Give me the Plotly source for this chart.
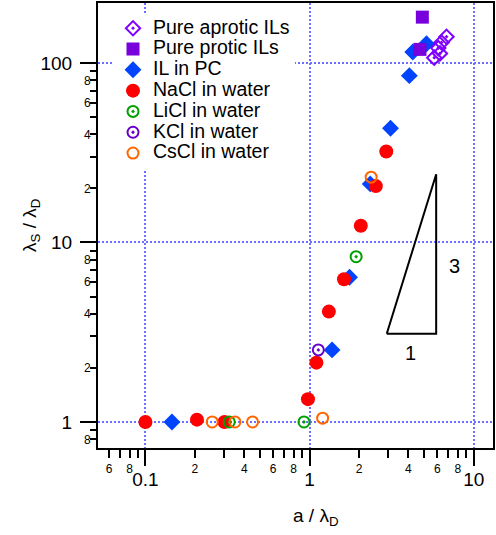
import plotly.graph_objects as go

# ---------------- data ----------------
aprotic_x = [5.74, 6.08, 6.22, 6.36, 6.82]
aprotic_y = [107, 121, 113, 130, 140]

protic_x = [4.86, 4.70]
protic_y = [180, 119]

ilpc_x = [0.145, 1.37, 1.75, 2.34, 3.11, 4.05, 4.25, 5.15]
ilpc_y = [1.0, 2.52, 6.40, 21.2, 43.3, 85, 115, 128]

nacl_x = [0.10, 0.206, 0.303, 0.977, 1.10, 1.31, 1.62, 2.05, 2.53, 2.93]
nacl_y = [1.0, 1.03, 1.0, 1.34, 2.14, 4.12, 6.24, 12.4, 20.6, 32.1]

licl_x = [0.324, 0.924, 1.92]
licl_y = [1.0, 1.0, 8.33]

kcl_x = [1.13]
kcl_y = [2.52]

cscl_x = [0.255, 0.351, 0.449, 1.20, 2.37]
cscl_y = [1.0, 1.0, 1.0, 1.05, 23.1]

# slope-3 guide triangle
tri_x = [2.95, 5.9, 5.9, 2.95]
tri_y = [3.1, 3.1, 24.0, 3.1]

# axis ticks
x_major = [0.1, 1, 10]
x_major_text = ["0.1", "1", "10"]
x_minor = [0.06, 0.07, 0.08, 0.09, 0.2, 0.3, 0.4, 0.5, 0.6, 0.7, 0.8, 0.9,
           2, 3, 4, 5, 6, 7, 8, 9]
x_minor_lab = [0.06, 0.08, 0.2, 0.4, 0.6, 0.8, 2, 4, 6, 8]
x_minor_text = ["6", "8", "2", "4", "6", "8", "2", "4", "6", "8"]
y_major = [1, 10, 100]
y_major_text = ["1", "10", "100"]
y_minor = [0.8, 0.9, 2, 3, 4, 5, 6, 7, 8, 9, 20, 30, 40, 50, 60, 70, 80, 90]
y_minor_lab = [0.8, 2, 4, 6, 8, 20, 40, 60, 80]
y_minor_text = ["8", "2", "4", "6", "8", "2", "4", "6", "8"]

XR = [-1.289, 1.117]
YR = [-0.145, 2.334]

FONT = "Liberation Sans, Arial, Helvetica, sans-serif"
GRID = "rgb(110,110,255)"


def lab(s):
    return '<span style="font-size:19.5px">' + s + '</span>'


fig = go.Figure()

fig.add_trace(go.Scatter(x=ilpc_x, y=ilpc_y, mode="markers", name=lab("IL in PC"),
                         legendrank=3,
                         marker=dict(symbol="diamond", size=13, color="#0044ff")))
fig.add_trace(go.Scatter(x=nacl_x, y=nacl_y, mode="markers", name=lab("NaCl in water"),
                         legendrank=4,
                         marker=dict(symbol="circle", size=14, color="#ff0000")))
fig.add_trace(go.Scatter(x=licl_x, y=licl_y, mode="markers", name=lab("LiCl in water"),
                         legendrank=5,
                         marker=dict(symbol="circle-open-dot", size=11, color="#00a000",
                                     line=dict(width=2))))
fig.add_trace(go.Scatter(x=kcl_x, y=kcl_y, mode="markers", name=lab("KCl in water"),
                         legendrank=6,
                         marker=dict(symbol="circle-open-dot", size=11, color="#6a00cc",
                                     line=dict(width=2))))
fig.add_trace(go.Scatter(x=cscl_x, y=cscl_y, mode="markers", name=lab("CsCl in water"),
                         legendrank=7,
                         marker=dict(symbol="circle-open", size=11, color="#ff6600",
                                     line=dict(width=2))))
fig.add_trace(go.Scatter(x=protic_x, y=protic_y, mode="markers", name=lab("Pure protic ILs"),
                         legendrank=2,
                         marker=dict(symbol="square", size=13, color="#7700dd")))
fig.add_trace(go.Scatter(x=aprotic_x, y=aprotic_y, mode="markers", name=lab("Pure aprotic ILs"),
                         legendrank=1,
                         marker=dict(symbol="diamond-open-dot", size=11, color="#8000ff",
                                     line=dict(width=2))))
fig.add_trace(go.Scatter(x=tri_x, y=tri_y, mode="lines", showlegend=False,
                         line=dict(color="black", width=2), hoverinfo="skip"))

# dummy trace to carry the minor-label overlay axes
fig.add_trace(go.Scatter(x=[None], y=[None], xaxis="x2", yaxis="y2",
                         showlegend=False, hoverinfo="skip"))

fig.update_layout(
    width=496, height=535,
    margin=dict(l=98, r=1, t=3, b=87),
    paper_bgcolor="white", plot_bgcolor="white",
    font=dict(family=FONT, color="black"),
    showlegend=True,
    legend=dict(x=0.038, y=0.978, xanchor="left", yanchor="top",
                bgcolor="white", borderwidth=0,
                font=dict(family=FONT, size=13.7, color="black"),
                traceorder="normal"),
    xaxis=dict(type="log", range=XR, tickmode="array", tickvals=x_major,
               ticktext=x_major_text, ticks="outside", ticklen=16, tickwidth=2,
               tickcolor="black", tickfont=dict(size=19, family=FONT),
               ticklabelstandoff=-3,
               minor=dict(tickmode="array", tickvals=x_minor, ticks="outside",
                          ticklen=8, tickwidth=1.5, tickcolor="black", showgrid=False),
               showline=True, linewidth=2, linecolor="black", mirror=True,
               showgrid=True, gridcolor=GRID, griddash="2px,2px", gridwidth=1.5,
               zeroline=False),
    yaxis=dict(type="log", range=YR, tickmode="array", tickvals=y_major,
               ticktext=y_major_text, ticks="outside", ticklen=16, tickwidth=2,
               tickcolor="black", tickfont=dict(size=19, family=FONT),
               ticklabelstandoff=4,
               minor=dict(tickmode="array", tickvals=y_minor, ticks="outside",
                          ticklen=6, tickwidth=1.5, tickcolor="black", showgrid=False),
               showline=True, linewidth=2, linecolor="black", mirror=True,
               showgrid=True, gridcolor=GRID, griddash="2px,2px", gridwidth=1.5,
               zeroline=False),
    xaxis2=dict(type="log", range=XR, overlaying="x", anchor="y", side="bottom",
                tickmode="array", tickvals=x_minor_lab, ticktext=x_minor_text,
                ticks="outside", ticklen=8, tickwidth=1.5, tickcolor="black",
                tickfont=dict(size=12, family=FONT), ticklabelstandoff=2,
                showline=False, showgrid=False, zeroline=False),
    yaxis2=dict(type="log", range=YR, overlaying="y", anchor="x", side="left",
                tickmode="array", tickvals=y_minor_lab, ticktext=y_minor_text,
                ticks="outside", ticklen=6, tickwidth=1.5, tickcolor="black",
                tickfont=dict(size=12, family=FONT), ticklabelstandoff=-2,
                showline=False, showgrid=False, zeroline=False),
    annotations=[
        dict(text="a / λ<sub>D</sub>", xref="paper", yref="paper",
             x=0.552, y=-0.155, xanchor="center", yanchor="middle",
             showarrow=False, font=dict(size=19, family=FONT)),
        dict(text="λ<sub>S</sub> / λ<sub>D</sub>", xref="paper", yref="paper",
             x=-0.171, y=0.5, xanchor="center", yanchor="middle", textangle=-90,
             showarrow=False, font=dict(size=19, family=FONT)),
        dict(text="3", xref="x", yref="y", x=0.881, y=0.869,
             showarrow=False, font=dict(size=20, family=FONT)),
        dict(text="1", xref="x", yref="y", x=0.612, y=0.384,
             showarrow=False, font=dict(size=20, family=FONT)),
    ],
    hovermode=False,
)

fig.write_html("out.html", config=dict(displayModeBar=False),
               post_script="document.body.style.margin='0';")
